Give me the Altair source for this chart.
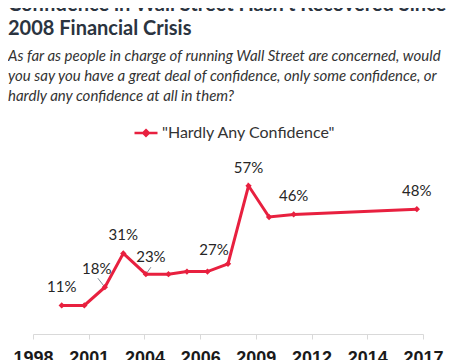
import json
import altair as alt
import pandas as pd

# ---- data ----
years = [1999.4, 2000.5, 2001.5, 2002.4, 2003.5, 2004.6, 2005.5, 2006.5,
         2007.5, 2008.5, 2009.5, 2010.7, 2016.7]
values = [11, 11, 18, 31, 23, 23, 24, 24, 27, 57, 45, 46, 48]
labels = ["11%", "", "18%", "31%", "23%", "", "", "", "27%", "57%", "", "46%", "48%"]
label_place = ["above", "", "left", "above", "right", "", "", "", "corner",
               "above", "", "above", "above"]
tick_labels = ["1998", "2001", "2004", "2006", "2009", "2012", "2014", "2017"]
series_name = '"Hardly Any Confidence"'

title_lines = ["Confidence in Wall Street Hasn\u2019t Recovered Since", "2008 Financial Crisis"]
subtitle_lines = [
    "As far as people in charge of running Wall Street are concerned, would",
    "you say you have a great deal of confidence, only some confidence, or",
    "hardly any confidence at all in them?",
]

RED = "#e8203f"
x_min, x_max = 1998, 2017
tick_vals = [x_min + i * (x_max - x_min) / (len(tick_labels) - 1) for i in range(len(tick_labels))]

df = pd.DataFrame({
    "year": years,
    "value": values,
    "label": labels,
    "place": label_place,
    "series": [series_name] * len(years),
})

x = alt.X("year:Q",
          scale=alt.Scale(domain=[x_min, x_max], nice=False, zero=False),
          axis=alt.Axis(values=tick_vals,
                        labelExpr=f"{json.dumps(tick_labels)}[round((datum.value - {x_min}) * {len(tick_labels) - 1} / {x_max - x_min})]",
                        grid=False, title=None, domainColor="#d9d9d9", tickColor="#d9d9d9",
                        tickSize=5, labelPadding=10, labelFont="Liberation Sans",
                        labelFontWeight="bold", labelFontSize=18, labelColor="#1a1a1a",
                        labelOverlap=False, labelFlush=False, labelBound=False))
y = alt.Y("value:Q", scale=alt.Scale(domain=[0, 70], nice=False), axis=None)

base = alt.Chart(df)

legend = alt.Legend(
    orient="none", legendX=100, legendY=-32, title=None,
    symbolType="M-1,0L1,0M0,-0.24L0.24,0L0,0.24L-0.24,0Z",
    symbolSize=529, symbolStrokeWidth=2.5, symbolFillColor=RED, symbolStrokeColor=RED,
    labelFont="Lato", labelFontSize=16, labelColor="#333333", labelOffset=3,
    labelLimit=400,
)

line = base.mark_line(strokeWidth=3).encode(
    x=x, y=y,
    color=alt.Color("series:N", scale=alt.Scale(domain=[series_name], range=[RED]), legend=legend),
)
points = base.mark_point(shape="diamond", filled=True, size=40, opacity=1).encode(
    x=x, y=y, color=alt.Color("series:N", legend=None),
)

def text_layer(place, dx, dy):
    return base.transform_filter(alt.datum.place == place).mark_text(
        font="Lato", fontSize=15, color="#262626", dx=dx, dy=dy, baseline="middle"
    ).encode(x=x, y=y, text="label:N")

lab_above = text_layer("above", 0, -18)
lab_left = text_layer("left", -8, -18)
lab_right = text_layer("right", 5, -17)
lab_corner = text_layer("corner", -14, -14)

lead_left = base.transform_filter(alt.datum.place == "left").mark_rule(
    color="#7f8c99", strokeWidth=1, x2Offset=-7, y2Offset=-9
).encode(x=x, y=y, x2="year:Q", y2="value:Q")
lead_right = base.transform_filter(alt.datum.place == "right").mark_rule(
    color="#7f8c99", strokeWidth=1, x2Offset=5, y2Offset=-7
).encode(x=x, y=y, x2="year:Q", y2="value:Q")

chart = alt.layer(
    lead_left, lead_right, line, points, lab_above, lab_left, lab_right, lab_corner
).properties(
    width=390, height=182,
    autosize=alt.AutoSizeParams(type="none"),
    padding={"left": 25, "top": 144, "right": 31, "bottom": 30},
    title=alt.TitleParams(
        text=title_lines, subtitle=subtitle_lines,
        anchor="start", frame="group", dx=-25, offset=16,
        font="Lato", fontSize=20, fontWeight="bold", color="#2b3440", lineHeight=24,
        subtitleFont="Lato", subtitleFontStyle="italic", subtitleFontSize=15,
        subtitleColor="#333333", subtitleLineHeight=20, subtitlePadding=10,
        limit=460,
    ),
).configure_view(stroke=None)

chart.save("out.html", embed_options={"renderer": "svg", "actions": False})
